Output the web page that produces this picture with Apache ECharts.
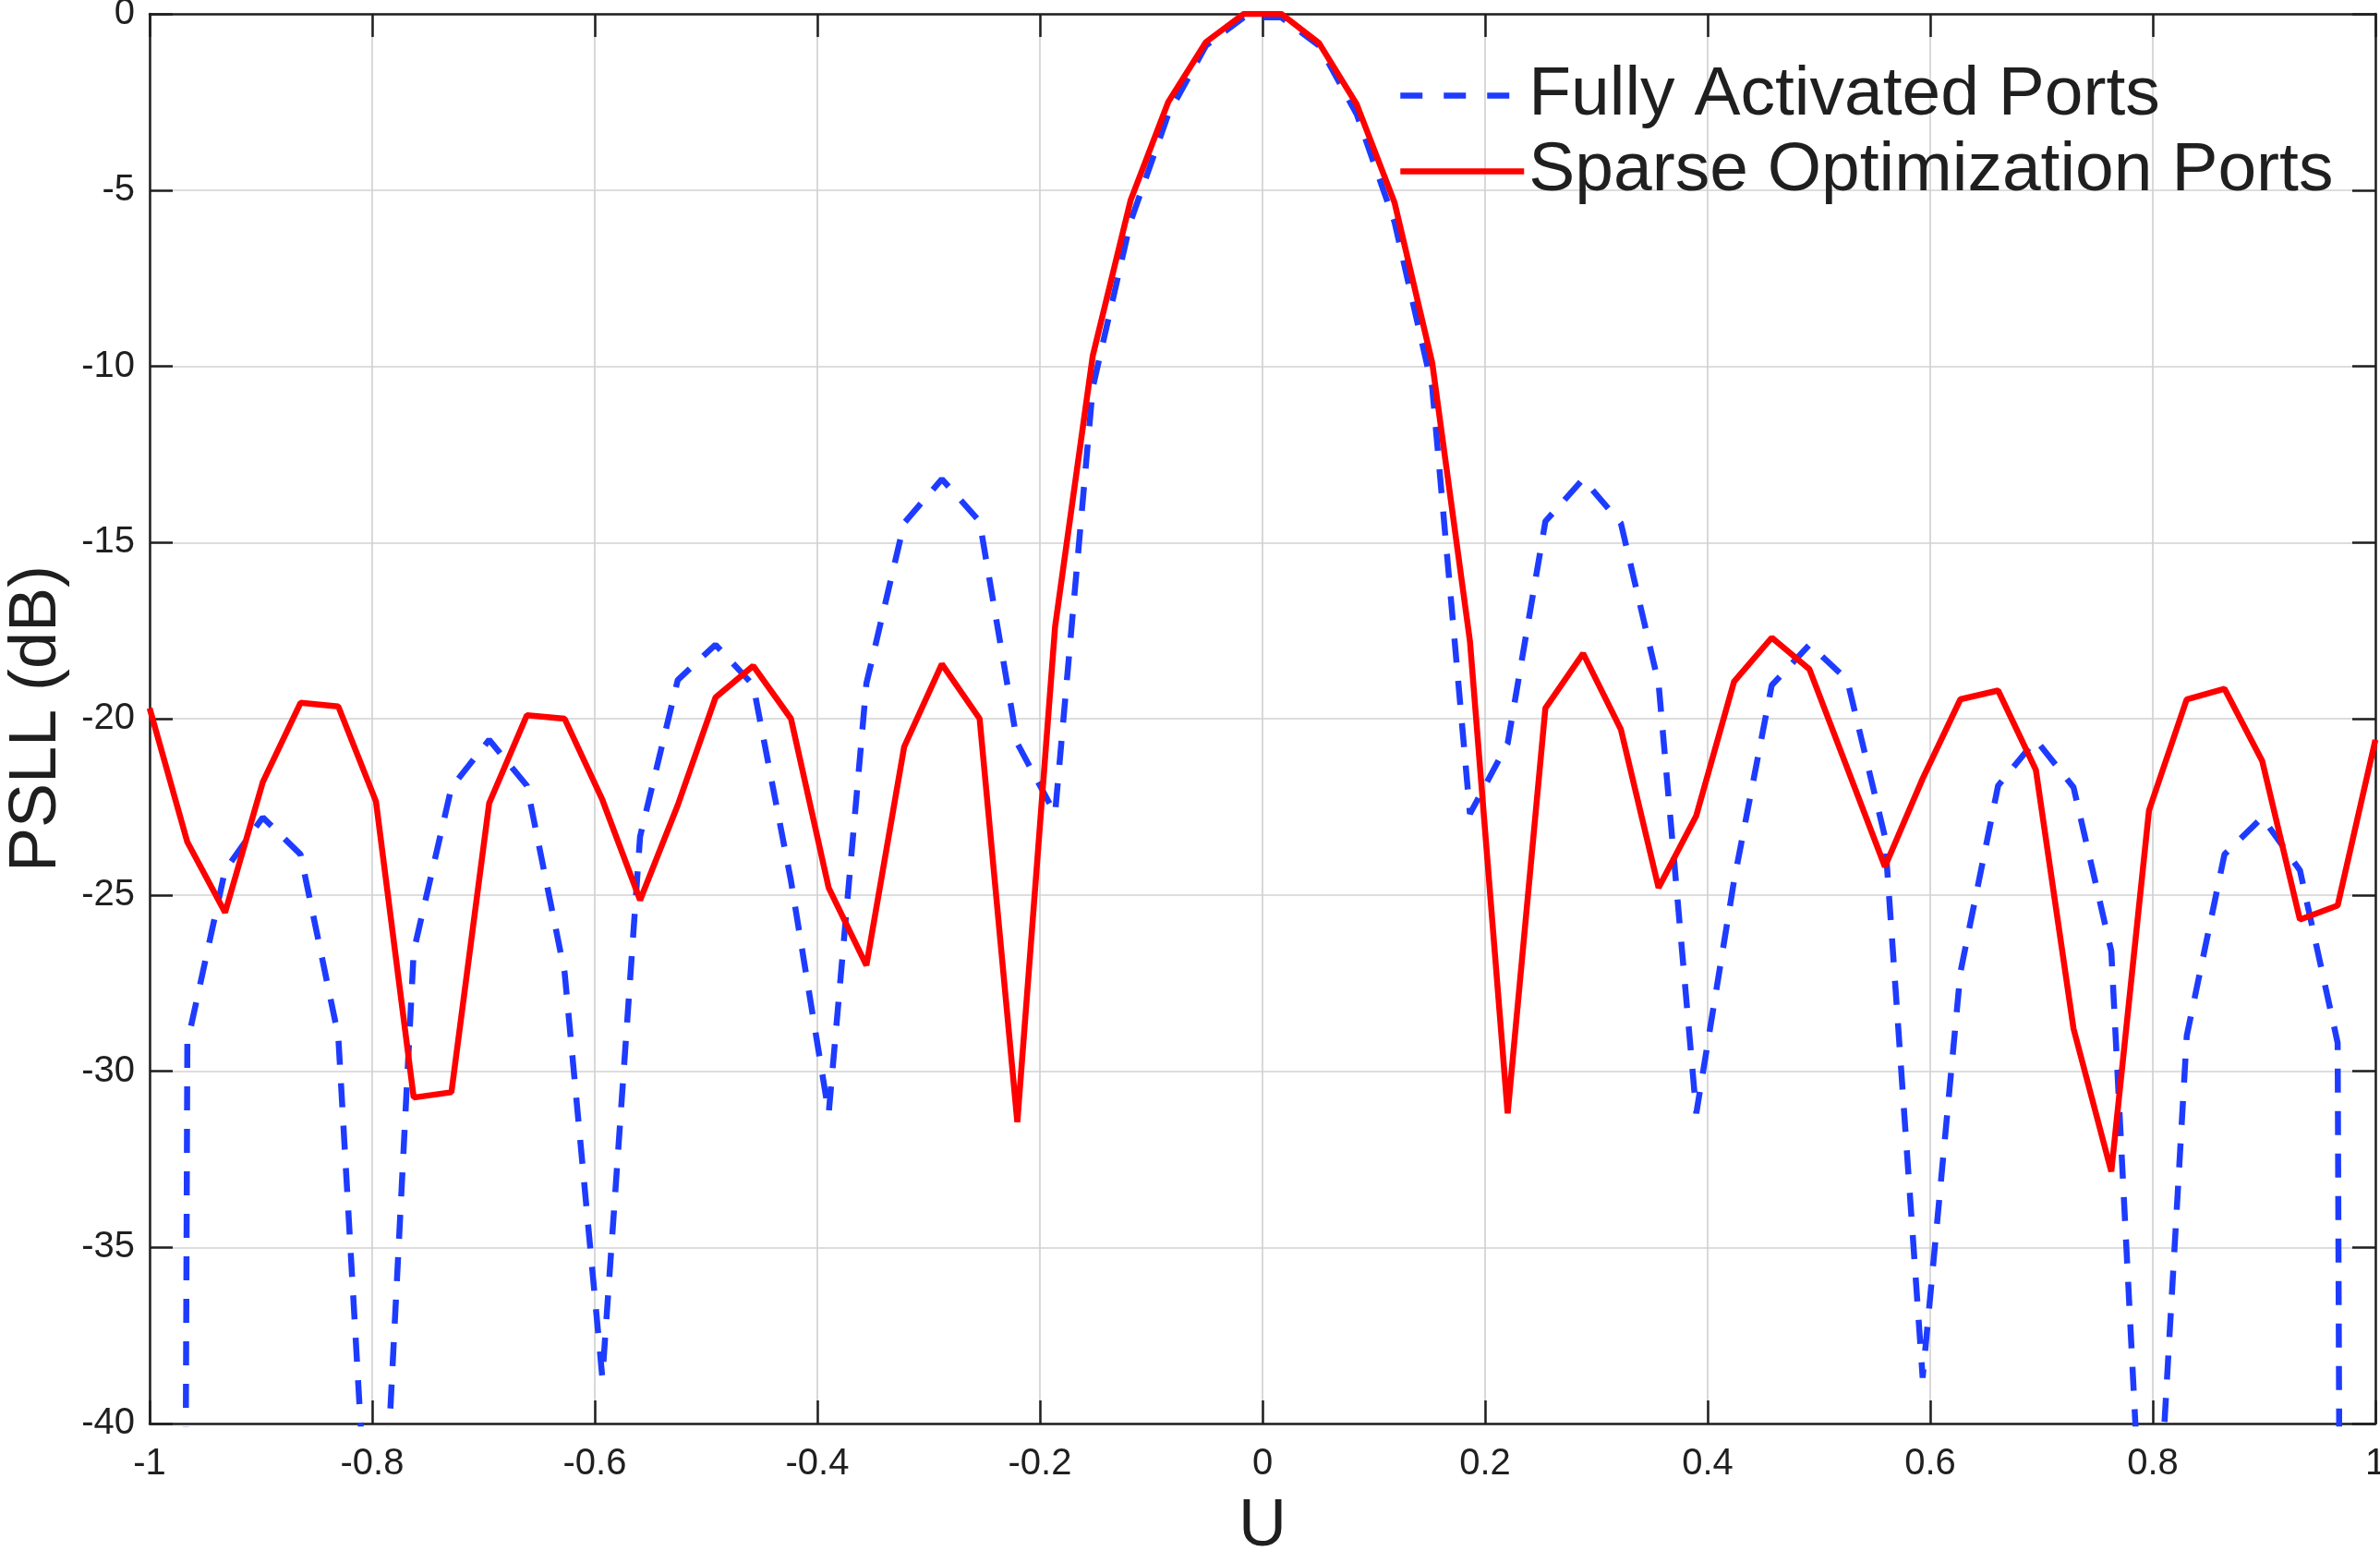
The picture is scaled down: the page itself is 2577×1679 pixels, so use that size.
<!DOCTYPE html>
<html>
<head>
<meta charset="utf-8">
<script src="https://cdn.jsdelivr.net/npm/echarts@6/dist/echarts.min.js"></script>
<style>
  html, body { margin: 0; padding: 0; background: #fff; }
  #chart { width: 2577px; height: 1679px; }
</style>
</head>
<body>
<div id="chart"></div>
<script>
// sample positions (U)
var uValues = [
  -1.0000, -0.9661, -0.9322, -0.8983, -0.8644, -0.8305, -0.7966, -0.7627, -0.7288, -0.6949,
  -0.6610, -0.6271, -0.5932, -0.5593, -0.5254, -0.4915, -0.4576, -0.4237, -0.3898, -0.3559,
  -0.3220, -0.2881, -0.2542, -0.2203, -0.1864, -0.1525, -0.1186, -0.0847, -0.0508, -0.0169,
   0.0169,  0.0508,  0.0847,  0.1186,  0.1525,  0.1864,  0.2203,  0.2542,  0.2881,  0.3220,
   0.3559,  0.3898,  0.4237,  0.4576,  0.4915,  0.5254,  0.5593,  0.5932,  0.6271,  0.6610,
   0.6949,  0.7288,  0.7627,  0.7966,  0.8305,  0.8644,  0.8983,  0.9322,  0.9661,  1.0000
];

// PSLL (dB), fully activated ports
var fullyActivated = [
  -300, -29.2, -24.3, -22.8, -23.85, -29.0, -47.6, -26.6, -21.95, -20.6,
  -21.9, -27.2, -38.7, -23.35, -18.9, -17.9, -19.05, -24.6, -31.2, -19.0,
  -14.45, -13.2, -14.4, -20.7, -22.7, -10.6, -5.9, -2.85, -0.9, -0.1,
  -0.1, -0.9, -2.85, -5.9, -10.6, -22.7, -20.7, -14.4, -13.2, -14.45,
  -19.0, -31.2, -24.6, -19.05, -17.9, -18.9, -23.35, -38.7, -27.2, -21.9,
  -20.6, -21.95, -26.6, -47.6, -29.0, -23.85, -22.8, -24.3, -29.2, -300
];

// PSLL (dB), sparse optimization ports
var sparseOptimized = [
  -19.7, -23.5, -25.5, -21.8, -19.55, -19.65, -22.35, -30.75, -30.6, -22.4,
  -19.9, -20.0, -22.3, -25.15, -22.45, -19.4, -18.5, -20.0, -24.8, -27.0,
  -20.8, -18.45, -20.0, -31.45, -17.4, -9.7, -5.3, -2.5, -0.8, 0.0,
  0.0, -0.83, -2.57, -5.35, -9.9, -17.8, -31.2, -19.7, -18.15, -20.3,
  -24.8, -22.75, -18.95, -17.7, -18.6, -21.4, -24.2, -21.7, -19.45, -19.2,
  -21.45, -28.8, -32.85, -22.6, -19.45, -19.15, -21.2, -25.7, -25.3, -20.6
];

var seriesNames = ['Fully Activated Ports', 'Sparse Optimization Ports'];

function pairs(ys) {
  return uValues.map(function (u, i) { return [u, ys[i]]; });
}

var fontName = '"Liberation Sans", Arial, Helvetica, sans-serif';
var ink = '#1f1f1f';
var blue = '#1e3cff';
var red = '#ff0000';
var gridColor = '#d2d2d2';

var chart = echarts.init(document.getElementById('chart'));

// top / right axes only close the box and carry inward ticks
var boxAxis = {
  axisLine: { show: true, onZero: false, lineStyle: { color: ink, width: 2.5 } },
  axisTick: { show: true, inside: true, length: 25, lineStyle: { color: ink, width: 2.5 } },
  axisLabel: { show: false },
  splitLine: { show: false }
};

var option = {
  animation: false,
  backgroundColor: '#ffffff',
  grid: { left: 162, right: 5, top: 15, bottom: 138, containLabel: false, outerBoundsMode: 'none' },
  legend: {
    orient: 'vertical',
    left: 1508,
    top: 61,
    itemWidth: 134,
    itemHeight: 8,
    itemGap: 7,
    itemStyle: { opacity: 0 },
    textStyle: { fontSize: 75, lineHeight: 75, fontFamily: fontName, color: ink },
    data: [
      { name: seriesNames[0], lineStyle: { type: [24, 23], width: 6.5, color: blue } },
      { name: seriesNames[1], lineStyle: { type: 'solid', width: 6.5, color: red } }
    ]
  },
  xAxis: [
    {
      type: 'value',
      min: -1, max: 1, interval: 0.2,
      name: 'U',
      nameLocation: 'middle',
      nameGap: 76,
      nameTextStyle: { fontSize: 72, fontFamily: fontName, color: ink },
      axisLine: { show: true, onZero: false, lineStyle: { color: ink, width: 2.5 } },
      axisTick: { show: true, inside: true, length: 25, lineStyle: { color: ink, width: 2.5 } },
      axisLabel: { fontSize: 40, fontFamily: fontName, color: ink, margin: 24 },
      splitLine: { show: true, lineStyle: { color: gridColor, width: 1.7 } }
    },
    Object.assign({ type: 'value', position: 'top', min: -1, max: 1, interval: 0.2 }, boxAxis)
  ],
  yAxis: [
    {
      type: 'value',
      min: -40, max: 0, interval: 5,
      name: 'PSLL (dB)',
      nameLocation: 'middle',
      nameGap: 86,
      nameTextStyle: { fontSize: 72, fontFamily: fontName, color: ink },
      axisLine: { show: true, onZero: false, lineStyle: { color: ink, width: 2.5 } },
      axisTick: { show: true, inside: true, length: 25, lineStyle: { color: ink, width: 2.5 } },
      axisLabel: { fontSize: 40, fontFamily: fontName, color: ink, margin: 16 },
      splitLine: { show: true, lineStyle: { color: gridColor, width: 1.7 } }
    },
    Object.assign({ type: 'value', position: 'right', min: -40, max: 0, interval: 5 }, boxAxis)
  ],
  series: [
    {
      name: seriesNames[0],
      type: 'line',
      data: pairs(fullyActivated),
      symbol: 'none',
      clip: true,
      color: blue,
      lineStyle: { color: blue, width: 6.5, type: [26, 20] }
    },
    {
      name: seriesNames[1],
      type: 'line',
      data: pairs(sparseOptimized),
      symbol: 'none',
      clip: true,
      color: red,
      lineStyle: { color: red, width: 6.5, type: 'solid' }
    }
  ]
};

chart.setOption(option);
</script>
</body>
</html>
